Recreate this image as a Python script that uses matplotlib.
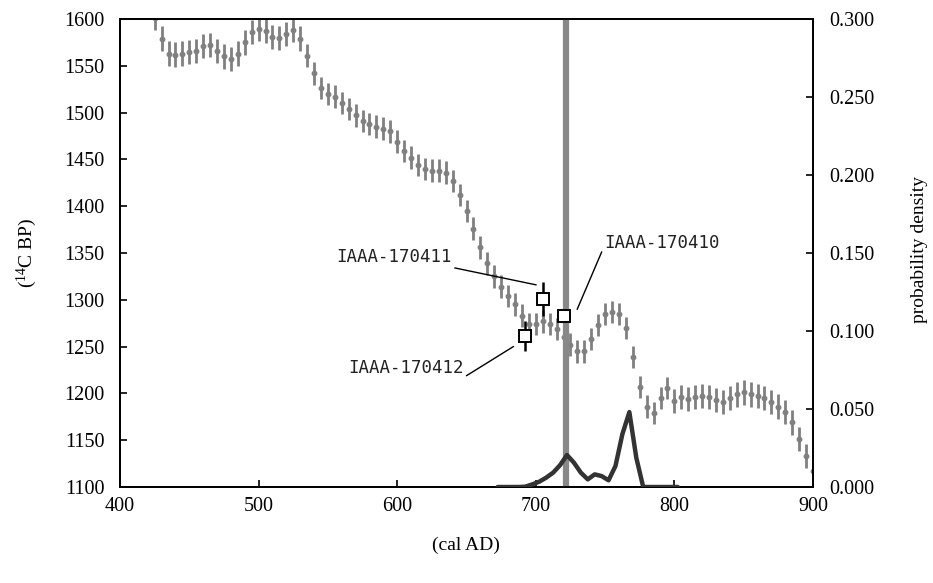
import numpy as np
import matplotlib
matplotlib.use("Agg")
import matplotlib.pyplot as plt

plt.rcParams["font.family"] = ["Liberation Serif", "DejaVu Serif"]
plt.rcParams["mathtext.fontset"] = "custom"
plt.rcParams["mathtext.rm"] = "Liberation Serif"
plt.rcParams["mathtext.it"] = "Liberation Serif:italic"

TICK_FS = 14.5
LABEL_FS = 14
ANN_FS = 12.5
GREY = "#808080"

# ── calibration curve (cal AD, 14C BP, 1 sigma) ──────────────────────────────
cal_ad = list(range(425, 901, 5))
cal_bp = [1601, 1579, 1563, 1562, 1563, 1565, 1566, 1571, 1572, 1566,
          1560, 1557, 1563, 1575, 1586, 1589, 1587, 1581, 1580, 1584,
          1588, 1579, 1561, 1542, 1526, 1520, 1517, 1510, 1504, 1497,
          1491, 1488, 1485, 1483, 1480, 1469, 1459, 1452, 1444, 1440,
          1438, 1438, 1436, 1427, 1412, 1395, 1376, 1356, 1339, 1325,
          1314, 1304, 1295, 1283, 1274, 1274, 1277, 1274, 1269, 1260,
          1252, 1245, 1245, 1258, 1273, 1285, 1287, 1285, 1270, 1239,
          1207, 1186, 1179, 1195, 1206, 1192, 1196, 1194, 1196, 1197,
          1196, 1193, 1191, 1195, 1199, 1201, 1199, 1197, 1195, 1191,
          1186, 1180, 1169, 1151, 1133, 1117]
cal_err = [13, 13, 13, 13, 13, 13, 13, 13, 13, 13,
           13, 13, 13, 13, 13, 13, 13, 13, 13, 13,
           13, 13, 12, 12, 12, 12, 12, 12, 12, 12,
           12, 12, 12, 12, 12, 12, 12, 12, 12, 12,
           12, 12, 12, 12, 12, 12, 12, 12, 12, 12,
           12, 12, 12, 12, 12, 12, 12, 12, 12, 12,
           12, 12, 12, 12, 12, 12, 12, 12, 12, 12,
           12, 12, 12, 12, 12, 13, 13, 13, 13, 13,
           13, 13, 13, 13, 13, 13, 13, 13, 13, 13,
           13, 13, 13, 13, 13, 13]

# ── measured samples ─────────────────────────────────────────────────────────
samp_id  = ["IAAA-170412", "IAAA-170411", "IAAA-170410"]
samp_ad  = [692, 705, 720]
samp_bp  = [1261, 1301, 1283]
samp_err = [16, 18, 6]

# ── probability density of the wiggle-matched date ──────────────────────────
dens_ad = [672.5, 677.5, 682.5, 687.5, 692.5, 697.5, 702.5, 707.5, 712.5,
           717.5, 722.5, 727.5, 732.5, 737.5, 742.5, 747.5, 752.5, 757.5,
           762.5, 767.5, 772.5, 777.5, 782.5, 787.5, 792.5, 797.5, 802.5]
dens_p  = [0.0, 0.0, 0.0, 0.0, 0.0002, 0.0017, 0.0034, 0.006, 0.0092,
           0.014, 0.0205, 0.0156, 0.0092, 0.0049, 0.0081, 0.007, 0.0043,
           0.0135, 0.034, 0.048, 0.0188, 0.0, 0.0, 0.0, 0.0, 0.0, 0.0]

best_ad = 722

fig = plt.figure(figsize=(9.33, 5.83), dpi=100)
ax = fig.add_axes([120 / 933, 1 - 487 / 583, 693 / 933, 468 / 583])
ax2 = ax.twinx()

ax.errorbar(cal_ad, cal_bp, yerr=cal_err, fmt="o", color=GREY, ms=3.2,
            elinewidth=2.0, capsize=0, zorder=2)
ax.axvline(best_ad, color="#888888", lw=4.5, zorder=3)
ax.errorbar(samp_ad, samp_bp, yerr=samp_err, fmt="none", ecolor="black",
            elinewidth=1.8, capsize=0, zorder=4)
ax.plot(samp_ad, samp_bp, "s", ms=8, mfc="white", mec="black", mew=1.4,
        zorder=5)

# sample labels with leader lines (text pos, line start, line end)
ann = {
    "IAAA-170411": ((597.7, 1346), (641.7, 1334), (700.1, 1316)),
    "IAAA-170412": ((606.3, 1227), (650.1, 1219), (683.8, 1250)),
    "IAAA-170410": ((790.7, 1361), (747.5, 1351), (729.9, 1290)),
}
for name in samp_id:
    (tx, ty), (x0, y0), (x1, y1) = ann[name]
    ax.text(tx, ty, name, ha="center", va="center", fontsize=ANN_FS,
            family="DejaVu Sans Mono", color="#222222", zorder=6)
    ax.plot([x0, x1], [y0, y1], color="black", lw=1.0, zorder=6)

ax2.plot(dens_ad, dens_p, color="#333333", lw=3.2, solid_joinstyle="round",
         solid_capstyle="round", zorder=3)

ax.set_xlim(400, 900)
ax.set_ylim(1100, 1600)
ax.set_xticks(range(400, 901, 100))
ax.set_yticks(range(1100, 1601, 50))
ax2.set_ylim(0, 0.3)
ax2.set_yticks(np.arange(0, 0.301, 0.05))
ax2.set_yticklabels([f"{v:.3f}" for v in np.arange(0, 0.301, 0.05)])

for a in (ax, ax2):
    for s in a.spines.values():
        s.set_linewidth(1.3)
ax.tick_params(axis="both", direction="in", length=5, width=1.2,
               labelsize=TICK_FS, pad=11)
ax.tick_params(axis="x", pad=7)
ax2.tick_params(axis="y", direction="in", length=5, width=1.2,
                labelsize=TICK_FS, pad=12)

fig.text(27 / 933, 1 - 253 / 583, r"($^{\mathrm{14}}$C BP)", rotation=90,
         ha="center", va="center", fontsize=LABEL_FS)
fig.text(919 / 933, 1 - 250 / 583, "probability density", rotation=90,
         ha="center", va="center", fontsize=LABEL_FS)
fig.text(466 / 933, 1 - 545 / 583, "(cal AD)", ha="center", va="center",
         fontsize=LABEL_FS)

fig.savefig("out.png", dpi=100)
